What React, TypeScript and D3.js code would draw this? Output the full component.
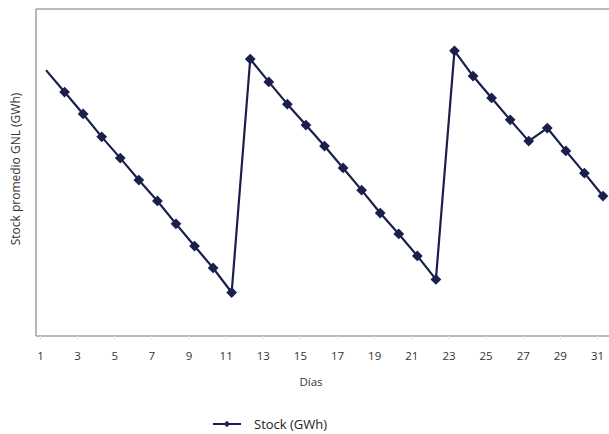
import React, { useEffect, useRef } from "react";
import * as d3 from "d3";

const days: number[] = d3.range(1, 32);
const stock: number[] = [
  81.3, 74.6, 67.9, 60.9, 54.4, 47.7, 41.3, 34.3, 27.5, 20.8, 13.3,
  84.7, 77.7, 70.9, 64.5, 58.1, 51.4, 44.6, 37.6, 31.2, 24.5, 17.3,
  87.2, 79.5, 72.8, 66.1, 59.6, 63.6, 56.6, 49.8, 42.8,
];
const tickDays: number[] = [1, 3, 5, 7, 9, 11, 13, 15, 17, 19, 21, 23, 25, 27, 29, 31];
const yTitle = "Stock promedio GNL (GWh)";
const xTitle = "Días";
const seriesName = "Stock (GWh)";

const W = 609;
const H = 434;
const LINE = "#1a1f4c";
const FONT = "'Open Sans', 'Noto Sans', sans-serif";

export default function App() {
  const ref = useRef<SVGSVGElement | null>(null);
  useEffect(() => {
    const svg = d3.select(ref.current);
    svg.selectAll("*").remove();

    const left = 36, top = 9, bottom = 336;
    const x = d3.scaleLinear().domain([1, 31]).range([46, 603]);
    const y = d3.scaleLinear().domain([0, 100]).range([bottom, top]);

    svg.append("rect").attr("width", W).attr("height", H).attr("fill", "#fff");

    // frame
    const frame = svg.append("g").attr("stroke", "#a3a3a3").attr("stroke-width", 1.6).attr("fill", "none");
    frame.append("line").attr("x1", left).attr("x2", W).attr("y1", top).attr("y2", top);
    frame.append("line").attr("x1", left).attr("x2", left).attr("y1", top).attr("y2", bottom);
    frame.append("line").attr("x1", left).attr("x2", W).attr("y1", bottom).attr("y2", bottom);

    // x axis via d3 axis
    const axis = d3.axisBottom(x).tickValues(tickDays).tickFormat(d3.format("d")).tickSize(4).tickPadding(12);
    const gx = svg.append("g").attr("transform", `translate(0,${bottom})`).call(axis);
    gx.select(".domain").remove();
    gx.selectAll(".tick line").attr("stroke", "#e6e6e6").attr("transform", "translate(-6,0)");
    gx.selectAll(".tick text")
      .attr("x", -6)
      .attr("font-family", FONT)
      .attr("font-size", 11.5)
      .attr("fill", "#333");

    svg.append("text")
      .attr("x", 311).attr("y", 386)
      .attr("text-anchor", "middle")
      .attr("font-family", FONT).attr("font-size", 11.5).attr("fill", "#333")
      .text(xTitle);

    svg.append("text")
      .attr("transform", `translate(20,169) rotate(-90)`)
      .attr("text-anchor", "middle")
      .attr("font-family", FONT).attr("font-size", 12).attr("fill", "#333")
      .text(yTitle);

    // line
    const line = d3.line<number>().x((_, i) => x(days[i])).y((d) => y(d));
    svg.append("path")
      .datum(stock)
      .attr("d", line)
      .attr("fill", "none")
      .attr("stroke", LINE)
      .attr("stroke-width", 2.2)
      .attr("stroke-linejoin", "round");

    const diamond = d3.symbol().type(d3.symbolSquare).size(58)();
    svg.append("g").selectAll("path")
      .data(stock.slice(1))
      .join("path")
      .attr("d", diamond)
      .attr("transform", (d, i) => `translate(${x(days[i + 1])},${y(d)}) rotate(45)`)
      .attr("fill", LINE);

    // legend
    const lg = svg.append("g");
    lg.append("line").attr("x1", 213).attr("x2", 241).attr("y1", 424).attr("y2", 424)
      .attr("stroke", LINE).attr("stroke-width", 2);
    lg.append("path").attr("d", d3.symbol().type(d3.symbolSquare).size(20)())
      .attr("transform", "translate(227,424) rotate(45)").attr("fill", LINE);
    lg.append("text").attr("x", 254).attr("y", 429)
      .attr("font-family", FONT).attr("font-size", 13).attr("fill", "#222")
      .text(seriesName);
  }, []);

  return (
    <svg
      ref={ref}
      width={W}
      height={H}
      style={{ position: "absolute", left: 0, top: 0, display: "block" }}
    />
  );
}
